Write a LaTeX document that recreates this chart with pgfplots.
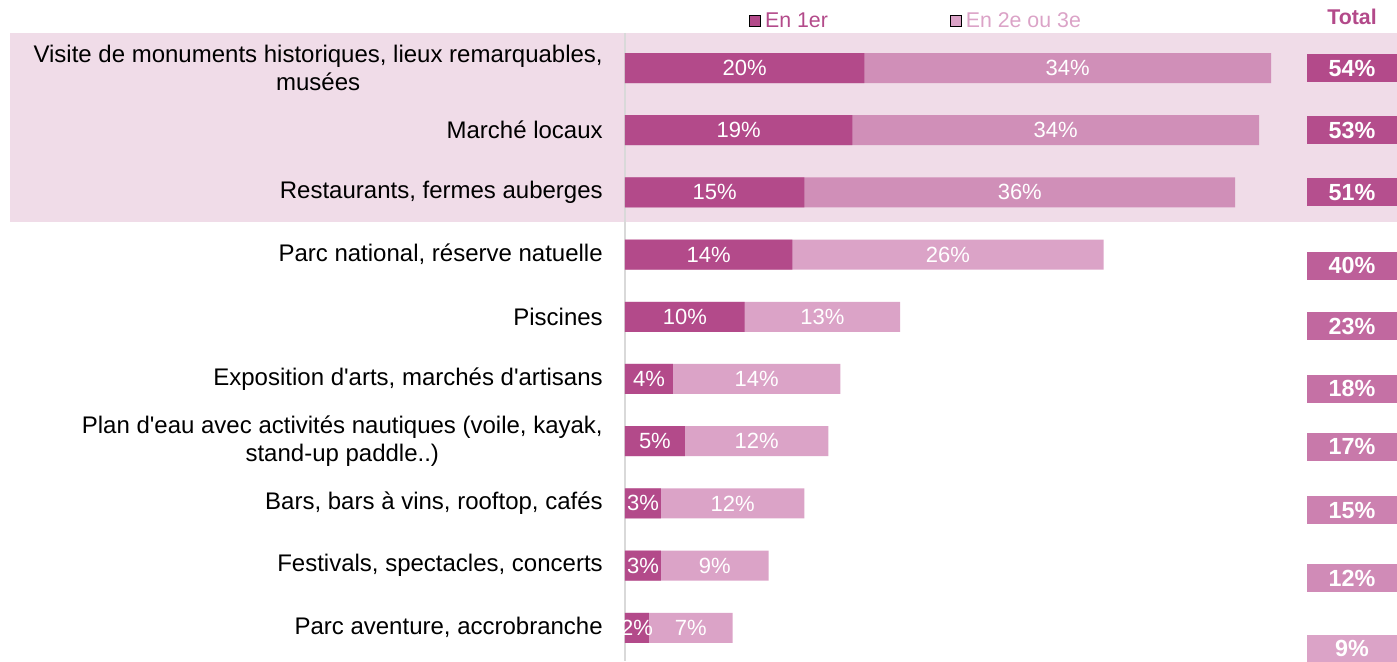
\documentclass[border=0pt]{standalone}
\usepackage{fontspec}
\setmainfont{Liberation Sans}
\usepackage{pgfplots}
\usepackage{pgfplotstable}
\pgfplotsset{compat=1.18}

\definecolor{first}{HTML}{B34A8A}
\definecolor{secondtop}{HTML}{D08FB8}
\definecolor{secondlow}{HTML}{DBA3C7}
\definecolor{band}{HTML}{F0DCE8}
\definecolor{axisgray}{HTML}{D9D9D9}

% row, en 1er, en 2e ou 3e, total, position of total box, shade of total box
\pgfplotstableread{
row first second total toty mix
0 20 34 54 0    100
1 19 34 53 1    97
2 15 36 51 2    94
3 14 26 40 3.18 76
4 10 13 23 4.15 66
5 4  14 18 5.16 56
6 5  12 17 6.09 47
7 3  12 15 7.11 38
8 3  9  12 8.2  27
9 2  7  9  9.34 0
}\data

\begin{document}
\begin{tikzpicture}
\begin{axis}[
    set layers,
    scale only axis,
    width=579pt,
    height=471pt,
    xmin=0, xmax=64.53,
    ymin=-0.563, ymax=9.534,
    y dir=reverse,
    axis x line=none,
    axis y line*=left,
    y axis line style={draw=axisgray, line width=1.5pt},
    ytick={0,...,9},
    major tick length=0pt,
    yticklabels={
        {Visite de monuments historiques, lieux remarquables,\\musées},
        {Marché locaux},
        {Restaurants, fermes auberges},
        {Parc national, réserve natuelle},
        {Piscines},
        {Exposition d\textquotesingle{}arts, marchés d\textquotesingle{}artisans},
        {Plan d\textquotesingle{}eau avec activités nautiques (voile, kayak,\\stand-up paddle..)},
        {Bars, bars à vins, rooftop, cafés},
        {Festivals, spectacles, concerts},
        {Parc aventure, accrobranche}},
    yticklabel style={align=center, font=\fontsize{18}{20.5}\selectfont,
        inner sep=0pt, xshift=-16.5pt},
    clip=false,
    legend columns=2,
    legend image code/.code={\fill[#1] (0pt,-4pt) rectangle (8pt,4pt);},
    legend style={
        draw=none, fill=none,
        at={(axis description cs:0.1606,1.019)},
        anchor=west,
        inner sep=0pt,
        nodes={inner ysep=1pt, inner xsep=3.5pt},
        font=\fontsize{16}{19}\selectfont,
        /tikz/every odd column/.append style={column sep=0pt},
        /tikz/every even column/.append style={column sep=88pt}
    }
]
% pink band behind the three first rows
\addplot[forget plot, on layer=axis background, draw=none, fill=band]
    coordinates {(-51.41,-0.563) (64.53,-0.563) (64.53,2.476) (-51.41,2.476)};

\addlegendimage{fill=first}
\addlegendentry{\textcolor{first}{En 1er}}
\addlegendimage{fill=secondlow}
\addlegendentry{\textcolor{secondlow}{En 2e ou 3e}}

% total bar behind, first part over it
\addplot[forget plot, xbar, bar width=22.5pt, bar shift=0pt, draw=none, fill=secondtop,
    restrict y to domain=0:2] table[x=total, y=row] {\data};
\addplot[forget plot, xbar, bar width=22.5pt, bar shift=0pt, draw=none, fill=secondlow,
    restrict y to domain=3:9] table[x=total, y=row] {\data};
\addplot[forget plot, xbar, bar width=22.5pt, bar shift=0pt, draw=none, fill=first]
    table[x=first, y=row] {\data};

% labels in the bars
\addplot[forget plot, only marks, mark=*, mark size=0pt, draw=none, fill=none,
    point meta=explicit symbolic, nodes near coords={\pgfplotspointmeta\%},
    every node near coord/.append style={anchor=center, text=white,
        font=\fontsize{16.5}{19}\selectfont}]
    table[x expr=\thisrow{first}/2, y=row, meta=first] {\data};
\addplot[forget plot, only marks, mark=*, mark size=0pt, draw=none, fill=none,
    point meta=explicit symbolic, nodes near coords={\pgfplotspointmeta\%},
    every node near coord/.append style={anchor=center, text=white,
        font=\fontsize{16.5}{19}\selectfont}]
    table[x expr=\thisrow{first}+\thisrow{second}/2, y=row, meta=second] {\data};

% total boxes
\addplot[forget plot, only marks, mark=*, mark size=0pt, draw=none, fill=none,
    point meta=explicit symbolic, nodes near coords={\pgfplotspointmeta\%},
    visualization depends on={\thisrow{mix} \as \mixv},
    every node near coord/.append style={anchor=center, text=white,
        fill=first!\mixv!secondlow, minimum width=67.5pt, minimum height=21pt,
        inner sep=0pt, font=\bfseries\fontsize{17.5}{19}\selectfont}]
    table[x expr=60.77, y=toty, meta=total] {\data};

\node[text=first, font=\bfseries\fontsize{16}{19}\selectfont] at (axis cs:60.77,-0.82) {Total};
\end{axis}
\pgfresetboundingbox
\useasboundingbox (-468.75pt,0pt) rectangle (579pt,495.75pt);
\end{tikzpicture}
\end{document}
